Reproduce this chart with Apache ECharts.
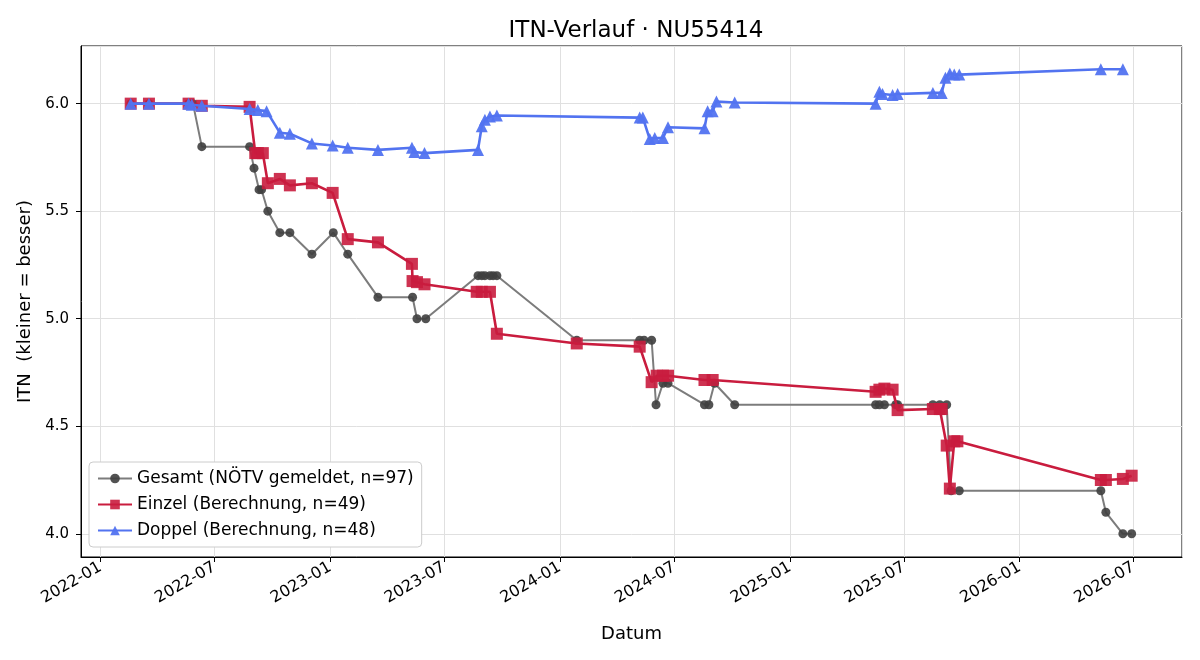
<!DOCTYPE html>
<html lang="de">
<head>
   <meta charset="utf-8">
   <title>ITN-Verlauf</title>
   <script src="https://cdn.jsdelivr.net/npm/echarts@6/dist/echarts.min.js"></script>
   <style>
      html, body { margin: 0; padding: 0; background: #fff; }
      #chart { width: 1200px; height: 660px; }
   </style>
</head>
<body>
   <div id="chart"></div>
   <script>
      var gesamtDates = ['2022-02-18', '2022-03-19', '2022-05-21', '2022-05-28', '2022-06-11', '2022-08-26',
         '2022-09-02', '2022-09-10', '2022-09-14', '2022-09-24', '2022-10-13', '2022-10-29', '2022-12-03',
         '2023-01-06', '2023-01-29', '2023-03-18', '2023-05-12', '2023-05-19', '2023-06-02', '2023-08-24',
         '2023-08-30', '2023-09-04', '2023-09-12', '2023-09-17', '2023-09-23', '2024-01-28', '2024-05-07',
         '2024-05-14', '2024-05-26', '2024-06-02', '2024-06-13', '2024-06-21', '2024-08-18', '2024-08-25',
         '2024-09-03', '2024-10-05', '2025-05-17', '2025-05-23', '2025-05-31', '2025-06-18', '2025-06-21',
         '2025-08-16', '2025-08-27', '2025-09-07', '2025-09-14', '2025-09-27', '2026-05-10', '2026-05-18',
         '2026-06-14', '2026-06-28'];
      var gesamtValues = [6.0, 6.0, 6.0, 6.0, 5.8, 5.8,
         5.7, 5.6, 5.6, 5.5, 5.4, 5.4, 5.3,
         5.4, 5.3, 5.1, 5.1, 5.0, 5.0, 5.2,
         5.2, 5.2, 5.2, 5.2, 5.2, 4.9, 4.9,
         4.9, 4.9, 4.6, 4.7, 4.7, 4.6, 4.6,
         4.7, 4.6, 4.6, 4.6, 4.6, 4.6, 4.6,
         4.6, 4.6, 4.6, 4.2, 4.2, 4.2, 4.1,
         4.0, 4.0];

      var einzelDates = ['2022-02-18', '2022-03-19', '2022-05-21', '2022-06-11', '2022-08-26', '2022-09-04',
         '2022-09-08', '2022-09-16', '2022-09-24', '2022-10-13', '2022-10-29', '2022-12-03', '2023-01-05',
         '2023-01-29', '2023-03-18', '2023-05-11', '2023-05-12', '2023-05-19', '2023-05-31', '2023-08-22',
         '2023-08-30', '2023-09-12', '2023-09-23', '2024-01-28', '2024-05-07', '2024-05-26', '2024-06-03',
         '2024-06-13', '2024-06-21', '2024-08-18', '2024-08-31', '2025-05-17', '2025-05-23', '2025-05-31',
         '2025-06-13', '2025-06-21', '2025-08-16', '2025-08-27', '2025-08-30', '2025-09-07', '2025-09-12',
         '2025-09-19', '2025-09-24', '2026-05-10', '2026-05-18', '2026-06-14', '2026-06-28'];
      var einzelValues = [6.0, 6.0, 6.0, 5.99, 5.985, 5.77,
         5.77, 5.77, 5.63, 5.65, 5.62, 5.63, 5.585,
         5.37, 5.355, 5.255, 5.175, 5.17, 5.16, 5.125,
         5.125, 5.125, 4.93, 4.885, 4.87, 4.705, 4.735,
         4.735, 4.735, 4.715, 4.715, 4.66, 4.67, 4.675,
         4.67, 4.575, 4.58, 4.58, 4.58, 4.41, 4.21,
         4.43, 4.43, 4.25, 4.25, 4.255, 4.27];

      var doppelDates = ['2022-02-18', '2022-03-19', '2022-05-21', '2022-05-26', '2022-06-11', '2022-08-26',
         '2022-09-08', '2022-09-22', '2022-10-13', '2022-10-29', '2022-12-03', '2023-01-05', '2023-01-29',
         '2023-03-18', '2023-05-11', '2023-05-15', '2023-05-31', '2023-08-24', '2023-08-30', '2023-09-04',
         '2023-09-12', '2023-09-23', '2024-05-07', '2024-05-12', '2024-05-23', '2024-05-31', '2024-06-13',
         '2024-06-21', '2024-08-18', '2024-08-23', '2024-08-31', '2024-09-06', '2024-10-05', '2025-05-17',
         '2025-05-23', '2025-05-28', '2025-06-13', '2025-06-21', '2025-08-16', '2025-08-30', '2025-09-05',
         '2025-09-12', '2025-09-19', '2025-09-27', '2026-05-10', '2026-06-14'];
      var doppelValues = [6.0, 6.0, 6.0, 5.995, 5.99, 5.975,
         5.97, 5.965, 5.865, 5.86, 5.815, 5.805, 5.795,
         5.785, 5.795, 5.775, 5.77, 5.785, 5.895, 5.925,
         5.94, 5.945, 5.935, 5.935, 5.835, 5.84, 5.84,
         5.89, 5.885, 5.965, 5.965, 6.01, 6.005, 6.0,
         6.055, 6.045, 6.04, 6.045, 6.05, 6.05, 6.12,
         6.14, 6.135, 6.135, 6.16, 6.16];

      var seriesNames = ['Gesamt (NÖTV gemeldet, n=97)', 'Einzel (Berechnung, n=49)', 'Doppel (Berechnung, n=48)'];

      function pairs(dates, values) {
         return dates.map(function(d, i) { return [d, values[i]]; });
      }

      var chart = echarts.init(document.getElementById('chart'), null, { renderer: 'canvas' });
      var font = 'DejaVu Sans';
      var day = 24 * 3600 * 1000;

      var option = {
         animation: false,
         backgroundColor: '#fff',
         textStyle: { fontFamily: font, color: '#000' },
         title: {
            text: 'ITN-Verlauf · NU55414',
            left: 631,
            textAlign: 'center',
            top: 15,
            textStyle: { fontFamily: font, fontSize: 23, fontWeight: 'normal', color: '#000' }
         },
         grid: {
            left: 81, right: 18, top: 46, bottom: 103,
            show: true, borderColor: '#000', borderWidth: 1
         },
         legend: {
            orient: 'vertical',
            left: 89, top: 462,
            padding: [8, 8, 8, 8],
            itemGap: 9,
            itemWidth: 34, itemHeight: 12,
            backgroundColor: '#fff',
            borderColor: '#ccc', borderWidth: 1, borderRadius: 4,
            textStyle: { fontFamily: font, fontSize: 17, color: '#000' },
            data: seriesNames
         },
         xAxis: {
            type: 'time',
            min: '2021-12-01',
            max: '2026-09-16',
            minInterval: 182 * day,
            maxInterval: 186 * day,
            name: 'Datum',
            nameLocation: 'middle',
            nameGap: 68,
            nameTextStyle: { fontFamily: font, fontSize: 18, color: '#000' },
            axisLine: { show: true, lineStyle: { color: '#000', width: 1 } },
            axisTick: { show: true, length: 5, lineStyle: { color: '#000' } },
            axisLabel: {
               rotate: 30,
               fontFamily: font, fontSize: 16, color: '#000',
               margin: 9,
               formatter: function(v) {
                  var d = new Date(v);
                  return d.getFullYear() + '-' + String(d.getMonth() + 1).padStart(2, '0');
               }
            },
            splitLine: { show: true, lineStyle: { color: '#e0e0e0', width: 1 } }
         },
         yAxis: {
            type: 'value',
            min: 3.892,
            max: 6.268,
            splitNumber: 5,
            name: 'ITN  (kleiner = besser)',
            nameLocation: 'middle',
            nameGap: 47,
            nameTextStyle: { fontFamily: font, fontSize: 18, color: '#000' },
            axisLine: { show: true, lineStyle: { color: '#000', width: 1 } },
            axisTick: { show: true, length: 5, lineStyle: { color: '#000' } },
            axisLabel: {
               fontFamily: font, fontSize: 15, color: '#000', margin: 12,
               showMinLabel: false, showMaxLabel: false,
               formatter: function(v) {
                  return Math.abs(v * 2 - Math.round(v * 2)) < 1e-6 ? v.toFixed(1) : '';
               }
            },
            splitLine: { show: true, lineStyle: { color: '#e0e0e0', width: 1 } }
         },
         series: [
            {
               name: seriesNames[0],
               type: 'line',
               data: pairs(gesamtDates, gesamtValues),
               symbol: 'circle',
               symbolSize: 9,
               showAllSymbol: true,
               lineStyle: { color: '#7c7c7c', width: 2 },
               itemStyle: { color: '#3f3f3f', opacity: 0.9 },
               z: 2
            },
            {
               name: seriesNames[1],
               type: 'line',
               data: pairs(einzelDates, einzelValues),
               symbol: 'rect',
               symbolSize: 12,
               showAllSymbol: true,
               lineStyle: { color: '#c91c3e', width: 2.6 },
               itemStyle: { color: '#c91c3e', opacity: 0.9 },
               z: 3
            },
            {
               name: seriesNames[2],
               type: 'line',
               data: pairs(doppelDates, doppelValues),
               symbol: 'triangle',
               symbolSize: 12,
               showAllSymbol: true,
               lineStyle: { color: '#5273f0', width: 2.6 },
               itemStyle: { color: '#5273f0', opacity: 0.95 },
               z: 4
            }
         ]
      };

      chart.setOption(option);
   </script>
</body>
</html>
